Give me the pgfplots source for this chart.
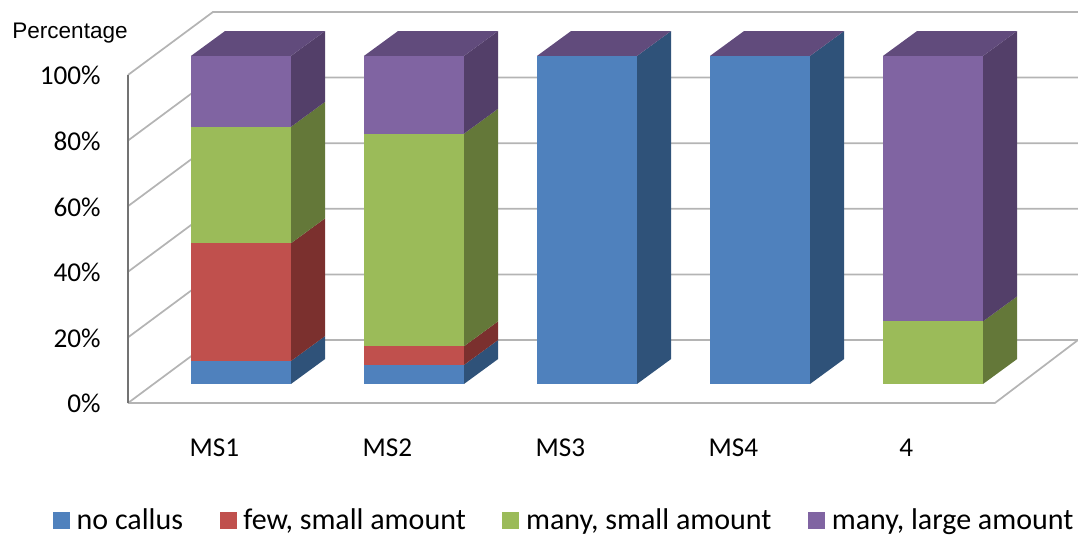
\documentclass[border=0pt]{standalone}
\usepackage{fontspec}
\setmainfont{Carlito}
\newfontfamily\pctfont{Liberation Sans}
\usepackage{pgfplots}
\pgfplotsset{compat=1.18}

\definecolor{cblue}{HTML}{4F81BD}
\definecolor{cbluedk}{HTML}{2F5279}
\definecolor{cred}{HTML}{C0504D}
\definecolor{creddk}{HTML}{7B302E}
\definecolor{cgreen}{HTML}{9BBB59}
\definecolor{cgreendk}{HTML}{647839}
\definecolor{cpurple}{HTML}{8064A2}
\definecolor{cpurpledk}{HTML}{533F69}
\definecolor{cpurpletop}{HTML}{614B7C}
\definecolor{wallgrey}{HTML}{B4B4B4}

% bar geometry in axis units: half width, depth offset, base above the front edge of the floor
\newcommand{\hw}{0.289}
\newcommand{\dx}{0.197}
\newcommand{\dy}{7.6}
\newcommand{\base}{5.8}

% one stacked segment: category, lower edge, upper edge, front colour, side colour
\newcommand{\barseg}[5]{%
  \pgfmathsetmacro{\xa}{#1-\hw}
  \pgfmathsetmacro{\xb}{#1+\hw}
  \pgfmathsetmacro{\xc}{#1+\hw+\dx}
  \pgfmathsetmacro{\ya}{#2+\base}
  \pgfmathsetmacro{\yb}{#3+\base}
  \pgfmathsetmacro{\yc}{#2+\base+\dy}
  \pgfmathsetmacro{\yd}{#3+\base+\dy}
  \addplot[fill=#5,draw=none,forget plot] coordinates {(\xb,\ya) (\xc,\yc) (\xc,\yd) (\xb,\yb)} --cycle;
  \addplot[fill=#4,draw=none,forget plot] coordinates {(\xa,\ya) (\xb,\ya) (\xb,\yb) (\xa,\yb)} --cycle;
}
\newcommand{\bartop}[1]{%
  \pgfmathsetmacro{\xa}{#1-\hw}
  \pgfmathsetmacro{\xb}{#1+\hw}
  \pgfmathsetmacro{\xc}{#1-\hw+\dx}
  \pgfmathsetmacro{\xd}{#1+\hw+\dx}
  \pgfmathsetmacro{\ya}{100+\base}
  \pgfmathsetmacro{\yb}{100+\base+\dy}
  \addplot[fill=cpurpletop,draw=none,forget plot] coordinates {(\xa,\ya) (\xb,\ya) (\xd,\yb) (\xc,\yb)} --cycle;
}
% wall line at one percentage
\newcommand{\wall}[1]{%
  \pgfmathsetmacro{\yb}{#1+19.2}
  \addplot[wallgrey,line width=1.3pt,forget plot] coordinates {(-0.653,#1) (-0.162,\yb) (4.838,\yb)};
}

\begin{document}
\begin{tikzpicture}
\path[use as bounding box] (-96pt,-99pt) rectangle (712.5pt,302.25pt);
\begin{axis}[
    scale only axis,
    width=712.5pt,
    height=294pt,
    xmin=-0.653, xmax=4.838,
    ymin=0, ymax=119.5,
    clip=false,
    axis line style={draw=none},
    major tick length=0pt,
    no markers,
    xtick={0,1,2,3,4},
    xticklabels={MS1,MS2,MS3,MS4,4},
    ytick={0,20,40,60,80,100},
    yticklabel={\pgfmathprintnumber{\tick}\%},
    /pgf/number format/assume math mode=true,
    tick label style={font=\fontsize{20.4}{24}\selectfont},
    xticklabel style={xshift=-20pt,yshift=-23.5pt},
    yticklabel style={xshift=-17pt,yshift=-0.5pt},
    legend columns=4,
    legend cell align=left,
    legend style={
        at={(axis description cs:0.4595,-0.299)},
        anchor=center,
        draw=none,
        fill=none,
        font=\fontsize{22.5}{26}\selectfont,
        /tikz/every even column/.append style={column sep=25.5pt},
        /tikz/every odd column/.append style={column sep=3pt},
    },
    legend image code/.code={\path[#1,draw=none] (0pt,-6.4pt) rectangle (12.75pt,6.4pt);},
]
    % walls and floor
    \wall{20}
    \wall{40}
    \wall{60}
    \wall{80}
    \wall{100}
    \addplot[wallgrey,line width=1.3pt,forget plot] coordinates {(-0.653,0) (-0.162,19.2) (4.838,19.2) (4.358,0) (-0.653,0)};
    \addplot[black!55,line width=1.1pt,forget plot] coordinates {(-0.653,0) (-0.653,100)};

    % MS1
    \barseg{0}{0}{7.0}{cblue}{cbluedk}
    \barseg{0}{7.0}{42.9}{cred}{creddk}
    \barseg{0}{42.9}{78.4}{cgreen}{cgreendk}
    \barseg{0}{78.4}{100}{cpurple}{cpurpledk}
    \bartop{0}
    % MS2
    \barseg{1}{0}{5.8}{cblue}{cbluedk}
    \barseg{1}{5.8}{11.5}{cred}{creddk}
    \barseg{1}{11.5}{76.3}{cgreen}{cgreendk}
    \barseg{1}{76.3}{100}{cpurple}{cpurpledk}
    \bartop{1}
    % MS3
    \barseg{2}{0}{100}{cblue}{cbluedk}
    \bartop{2}
    % MS4
    \barseg{3}{0}{100}{cblue}{cbluedk}
    \bartop{3}
    % 4
    \barseg{4}{0}{19.1}{cgreen}{cgreendk}
    \barseg{4}{19.1}{100}{cpurple}{cpurpledk}
    \bartop{4}

    \addlegendimage{fill=cblue}
    \addlegendentry{no callus}
    \addlegendimage{fill=cred}
    \addlegendentry{few, small amount}
    \addlegendimage{fill=cgreen}
    \addlegendentry{many, small amount}
    \addlegendimage{fill=cpurple}
    \addlegendentry{many, large amount}
\end{axis}
\node[font=\pctfont\fontsize{16.9}{20}\selectfont] at (-43.5pt,277.5pt) {Percentage};
\end{tikzpicture}
\end{document}
